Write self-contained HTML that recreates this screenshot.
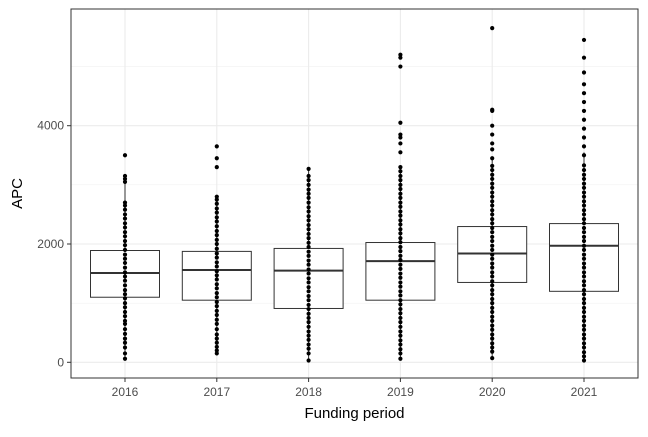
<!DOCTYPE html>
<html><head><meta charset="utf-8"><style>
body{margin:0;background:#fff;}
svg text{font-family:"Liberation Sans",sans-serif;}
</style></head><body>
<svg id="chart" width="648" height="432" xmlns="http://www.w3.org/2000/svg">
<rect width="648" height="432" fill="#fff"/>
<g id="grid"></g>
<g id="marks"></g>
<rect x="71" y="9" width="567" height="369" fill="none" stroke="#333" stroke-width="1"/>
<g id="axes"></g>
<text x="354.5" y="418" font-size="15" text-anchor="middle" fill="#000">Funding period</text>
<text transform="translate(22,193.5) rotate(-90)" font-size="15" text-anchor="middle" fill="#000">APC</text>
</svg>
<script>
const categories=["2016","2017","2018","2019","2020","2021"];
const q1=[1100,1050,910,1050,1350,1200];
const medians=[1510,1560,1550,1710,1840,1970];
const q3=[1890,1875,1925,2025,2295,2345];
const whiskLow=[60,150,30,60,70,30];
const whiskHigh=[3050,2800,3270,3300,3450,3550];
const yTicks=[0,2000,4000];
const yMinor=[1000,3000,5000];
const points=[
[60,150,250,330,400,480,560,650,700,780,850,930,1000,1080,1150,1220,1300,1380,1450,1520,1600,1680,1750,1820,1900,1980,2050,2130,2200,2280,2350,2430,2500,2580,2650,2700,3050,3100,3150,3500],
[150,200,260,330,400,470,560,650,720,800,870,950,1020,1100,1170,1250,1320,1400,1470,1540,1620,1690,1770,1840,1920,2000,2070,2150,2220,2300,2380,2450,2530,2600,2680,2750,2800,3300,3450,3650],
[30,150,230,300,380,450,520,600,680,750,820,900,970,1050,1120,1200,1270,1350,1420,1500,1570,1650,1720,1800,1870,1950,2020,2100,2170,2250,2320,2400,2470,2550,2620,2700,2780,2850,2920,3000,3080,3150,3270],
[60,150,220,300,370,450,520,600,680,750,830,900,980,1050,1130,1200,1280,1350,1430,1500,1580,1650,1730,1800,1880,1950,2030,2100,2180,2250,2330,2400,2480,2550,2630,2700,2780,2850,2930,3000,3080,3150,3230,3300,3550,3700,3800,3850,4050,5000,5150,5200],
[70,180,250,320,400,470,550,620,700,770,850,920,1000,1070,1150,1220,1300,1370,1450,1520,1600,1670,1750,1820,1900,1970,2050,2120,2200,2270,2350,2420,2500,2570,2650,2720,2800,2870,2950,3020,3100,3170,3250,3320,3450,3600,3700,3850,4000,4250,4270,5650],
[30,100,170,250,320,400,470,550,620,700,770,850,920,1000,1070,1150,1220,1300,1370,1450,1520,1600,1670,1750,1820,1900,1970,2050,2120,2200,2270,2350,2420,2500,2570,2650,2720,2800,2870,2950,3020,3100,3170,3250,3330,3500,3650,3800,3950,4100,4250,4400,4550,4700,4900,5150,5450]
];
const NS="http://www.w3.org/2000/svg";
const yScale=v=>362.3-v*(362.3-125.7)/4000;
const xScale=i=>125+i*91.8;
function mk(tag,attrs,parent){const e=document.createElementNS(NS,tag);for(const k in attrs)e.setAttribute(k,attrs[k]);parent.appendChild(e);return e;}
const grid=document.getElementById('grid'),marks=document.getElementById('marks'),axes=document.getElementById('axes');
yMinor.forEach(v=>{const l=mk('line',{x1:71,x2:638,y1:yScale(v),y2:yScale(v),stroke:'#f2f2f2','stroke-width':0.6},grid);

});
yTicks.forEach(v=>{const l=mk('line',{x1:71,x2:638,y1:yScale(v),y2:yScale(v),stroke:'#ebebeb','stroke-width':1.1},grid);


const t=mk('line',{x1:67,x2:71,y1:yScale(v),y2:yScale(v),stroke:'#333'},axes);


const tx=mk('text',{x:64,y:yScale(v)+4,'font-size':12,'text-anchor':'end',fill:'#4d4d4d'},axes);tx.textContent=v;

});
categories.forEach((c,i)=>{const x=xScale(i);
const g=mk('line',{x1:x,x2:x,y1:9,y2:378,stroke:'#ebebeb','stroke-width':1.1},grid);


const t=mk('line',{x1:x,x2:x,y1:378,y2:382,stroke:'#333'},axes);


const tx=mk('text',{x:x,y:396,'font-size':12,'text-anchor':'middle',fill:'#4d4d4d'},axes);tx.textContent=c;


const w1=mk('line',{x1:x,x2:x,y1:yScale(whiskHigh[i]),y2:yScale(q3[i]),stroke:'#333','stroke-width':1},marks);


const w2=mk('line',{x1:x,x2:x,y1:yScale(q1[i]),y2:yScale(whiskLow[i]),stroke:'#333','stroke-width':1},marks);


const b=mk('rect',{x:x-34.5,y:yScale(q3[i]),width:69,height:yScale(q1[i])-yScale(q3[i]),fill:'#fff',stroke:'#333','stroke-width':1},marks);


const m=mk('line',{x1:x-34.5,x2:x+34.5,y1:yScale(medians[i]),y2:yScale(medians[i]),stroke:'#333','stroke-width':2},marks);


points[i].forEach(v=>{const p=mk('circle',{cx:x,cy:yScale(v),r:2.1,fill:'#000'},marks);

});
});
</script>
</body></html>
